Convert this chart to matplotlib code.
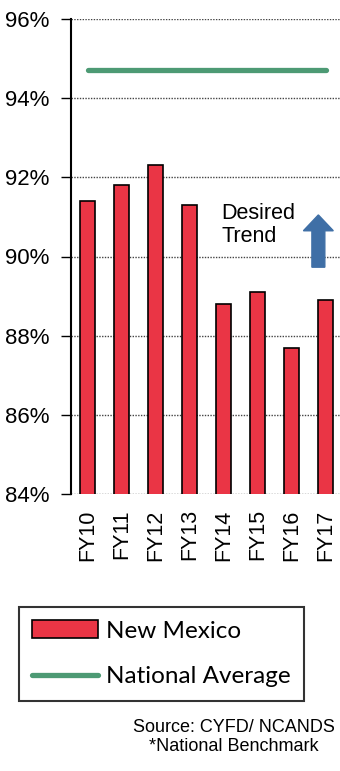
import matplotlib
matplotlib.use("Agg")
import matplotlib.pyplot as plt
from matplotlib.patches import Patch, FancyArrow
from matplotlib.lines import Line2D

years = ["FY10", "FY11", "FY12", "FY13", "FY14", "FY15", "FY16", "FY17"]
new_mexico = [91.4, 91.8, 92.3, 91.3, 88.8, 89.1, 87.7, 88.9]
national_avg = 94.7
y_ticks = [84, 86, 88, 90, 92, 94, 96]

RED = "#ea3545"
GREEN = "#4d9a74"
BLUE = "#3f6fa6"

plt.rcParams["font.family"] = ["Liberation Sans", "DejaVu Sans"]

fig = plt.figure(figsize=(3.40, 7.71), dpi=100)
ax = fig.add_axes([70.5 / 340, 277 / 771, 272 / 340, 475 / 771])

x = list(range(len(years)))
ax.bar(x, new_mexico, width=0.44, color=RED, edgecolor="black",
       linewidth=1.2, zorder=3)
ax.plot([x[0], x[-1]], [national_avg, national_avg], color=GREEN,
        linewidth=3.8, solid_capstyle="round", zorder=3)

ax.set_xlim(-0.5, len(years) - 0.5)
ax.set_ylim(84, 96)
ax.set_yticks(y_ticks)
ax.set_yticklabels([f"{v}%" for v in y_ticks], fontsize=16)
ax.set_xticks(x)
ax.set_xticklabels(years, rotation=90, fontsize=15.5)
ax.tick_params(axis="x", length=0, pad=11)
ax.tick_params(axis="y", length=7, width=1, pad=8, direction="out")

# dotted gridlines, solid left axis
ax.yaxis.grid(True, color="#444444", linestyle=(0, (1, 1)), linewidth=1,
              zorder=0)
for side in ("top", "right", "bottom"):
    ax.spines[side].set_visible(False)
ax.spines["left"].set_linewidth(1.5)
ax.set_axisbelow(True)

# desired trend marker
ax.text(3.93, 90.8, "Desired\nTrend", fontsize=15.5, ha="left", va="center",
        linespacing=1.1, zorder=4)
ax.add_patch(FancyArrow(6.79, 89.73, 0, 1.32, width=0.38, head_width=0.88,
                        head_length=0.4, length_includes_head=True,
                        color=BLUE, zorder=4, clip_on=False))

handles = [
    Patch(facecolor=RED, edgecolor="black", linewidth=1.2),
    Line2D([0], [0], color=GREEN, linewidth=3.8, solid_capstyle="round"),
]
leg = ax.legend(handles, ["New Mexico", "National Average"],
                loc="upper left", bbox_to_anchor=(19 / 340, 1 - 607 / 771),
                bbox_transform=fig.transFigure, borderaxespad=0,
                frameon=True, fancybox=False, handlelength=2.7,
                handleheight=0.75, handletextpad=0.35, borderpad=0.55,
                labelspacing=1.0, prop={"family": "Lato", "size": 17.5})
leg.get_frame().set_edgecolor("black")
leg.get_frame().set_linewidth(1.5)

fig.text(335 / 340, 1 - 737 / 771, "Source: CYFD/ NCANDS\n*National Benchmark",
         ha="right", va="center", multialignment="center", fontsize=13,
         linespacing=1.1)

fig.savefig("out.png", dpi=100)
